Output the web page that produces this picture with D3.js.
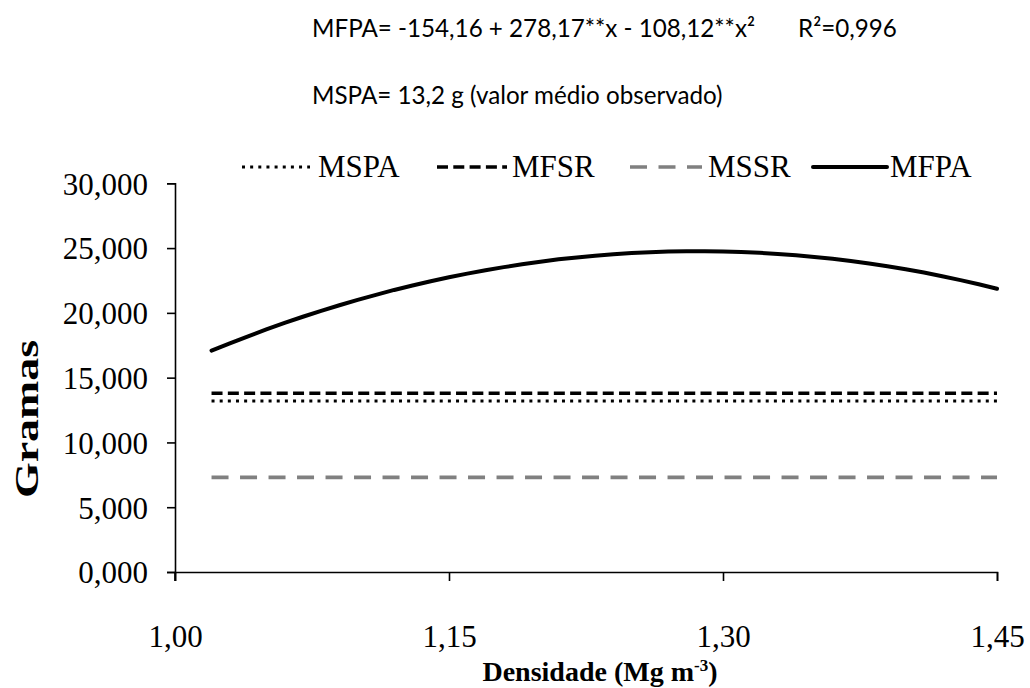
<!DOCTYPE html>
<html>
<head>
<meta charset="utf-8">
<script src="https://cdn.jsdelivr.net/npm/d3@7/dist/d3.min.js"></script>
<style>
  html, body { margin: 0; padding: 0; background: #fff; }
  svg { display: block; }
</style>
</head>
<body>
<svg id="chart" width="1030" height="688"></svg>
<script>
// Density values (Mg m-3) at which the fitted MFPA curve is plotted
const densidade = [1.02, 1.03, 1.04, 1.05, 1.06, 1.07, 1.08, 1.09, 1.10, 1.11,
  1.12, 1.13, 1.14, 1.15, 1.16, 1.17, 1.18, 1.19, 1.20, 1.21, 1.22, 1.23, 1.24,
  1.25, 1.26, 1.27, 1.28, 1.29, 1.30, 1.31, 1.32, 1.33, 1.34, 1.35, 1.36, 1.37,
  1.38, 1.39, 1.40, 1.41, 1.42, 1.43, 1.44, 1.45];
// Fresh shoot mass (g)
const mfpa = [17.09, 17.65, 18.19, 18.72, 19.22, 19.70, 20.15, 20.59, 21.00, 21.39,
  21.77, 22.11, 22.44, 22.75, 23.03, 23.29, 23.53, 23.75, 23.95, 24.13, 24.28, 24.41,
  24.53, 24.62, 24.68, 24.73, 24.75, 24.76, 24.74, 24.70, 24.64, 24.55, 24.45, 24.32,
  24.17, 24.00, 23.81, 23.60, 23.36, 23.11, 22.83, 22.53, 22.21, 21.86];
// Mean values (g) drawn as horizontal lines across the density range
const xRange = [1.02, 1.45];
const mspa = [13.2, 13.2];
const mfsr = [13.8, 13.8];
const mssr = [7.3, 7.3];

const xTicks = [1.00, 1.15, 1.30, 1.45];
const yTicks = [0, 5, 10, 15, 20, 25, 30];

const legendNames = ["MSPA", "MFSR", "MSSR", "MFPA"];

const svg = d3.select("#chart");
const serif = "'Liberation Serif', 'Times New Roman', serif";

const x = d3.scaleLinear().domain([1.00, 1.45]).range([175, 997]);
const y = d3.scaleLinear().domain([0, 30]).range([572, 183.3]);

const fmtX = v => d3.format(".2f")(v).replace(".", ",");
const fmtY = v => d3.format(",.3f")(v).replace(".", ",");

// Axes
const xAxis = svg.append("g")
  .attr("transform", `translate(0,${y(0)})`)
  .call(d3.axisBottom(x).tickValues(xTicks).tickFormat(fmtX).tickSizeOuter(0).tickSize(9).tickPadding(44));
const yAxis = svg.append("g")
  .attr("transform", `translate(${x(1.00)},0)`)
  .call(d3.axisLeft(y).tickValues(yTicks).tickFormat(fmtY).tickSizeOuter(0).tickSize(8).tickPadding(19));

[xAxis, yAxis].forEach(g => {
  g.select(".domain").attr("stroke", "#000").attr("stroke-width", 1.6);
  g.selectAll(".tick line").attr("stroke", "#000").attr("stroke-width", 1.6);
  g.selectAll(".tick text").attr("fill", "#000")
    .style("font-family", serif).style("font-size", "31px");
});
yAxis.selectAll(".tick text").attr("dy", "0.35em");
// The zero tick crosses slightly below the horizontal axis
svg.append("line").attr("x1", x(1.00)).attr("x2", x(1.00))
  .attr("y1", y(0)).attr("y2", y(0) + 9).attr("stroke", "#000").attr("stroke-width", 1.6);

// Series lines
const line = d3.line().x(d => x(d[0])).y(d => y(d[1]));

const series = [
  { name: "MSSR", xs: xRange, ys: mssr, color: "#808080", width: 3.6, dash: "17,11.5", cap: "butt" },
  { name: "MFSR", xs: xRange, ys: mfsr, color: "#000", width: 3.6, dash: "11,5.3", cap: "butt" },
  { name: "MSPA", xs: xRange, ys: mspa, color: "#000", width: 3, dash: "3,5.15", cap: "butt" },
  { name: "MFPA", xs: densidade, ys: mfpa, color: "#000", width: 4, dash: null, cap: "round" }
];

series.forEach(s => {
  svg.append("path")
    .datum(d3.zip(s.xs, s.ys))
    .attr("d", line)
    .attr("fill", "none")
    .attr("stroke", s.color)
    .attr("stroke-width", s.width)
    .attr("stroke-dasharray", s.dash)
    .attr("stroke-linecap", s.cap)
    .attr("stroke-linejoin", "round");
});

// Legend
const legendPos = [
  { x1: 242, x2: 310, tx: 318 },
  { x1: 437, x2: 507, tx: 512 },
  { x1: 630, x2: 702, tx: 708 },
  { x1: 813, x2: 887, tx: 890 }
];
const legendY = 167;
legendNames.forEach((name, i) => {
  const s = series.find(d => d.name === name);
  const p = legendPos[i];
  svg.append("line")
    .attr("x1", p.x1).attr("x2", p.x2).attr("y1", legendY).attr("y2", legendY)
    .attr("stroke", s.color).attr("stroke-width", s.width)
    .attr("stroke-dasharray", s.dash).attr("stroke-linecap", s.cap);
  svg.append("text")
    .attr("x", p.tx).attr("y", 177)
    .style("font-family", serif).style("font-size", "31px")
    .attr("fill", "#000").text(name);
});

// Axis titles
svg.append("text")
  .attr("transform", "translate(38,419) rotate(-90)")
  .attr("text-anchor", "middle")
  .attr("textLength", 158).attr("lengthAdjust", "spacingAndGlyphs")
  .style("font-family", serif).style("font-size", "34px").style("font-weight", "bold")
  .text("Gramas");

const xt = svg.append("text")
  .attr("x", 600).attr("y", 681)
  .attr("text-anchor", "middle")
  .style("font-family", serif).style("font-size", "28px").style("font-weight", "bold");
xt.append("tspan").text("Densidade (Mg m");
xt.append("tspan").attr("dy", -10).style("font-size", "17px").text("-3");
xt.append("tspan").attr("dy", 10).text(")");

// Regression annotations (one common size, set so the equation spans 443 px)
const sans = "Lato, 'Open Sans', sans-serif";
const notes = [
  { x: 312, y: 37, text: "MFPA= -154,16 + 278,17**x - 108,12**x²" },
  { x: 798, y: 37, text: "R²=0,996" },
  { x: 312, y: 104, text: "MSPA= 13,2 g (valor médio observado)" }
];
const noteText = svg.selectAll("text.note").data(notes).join("text")
  .attr("class", "note")
  .attr("x", d => d.x).attr("y", d => d.y)
  .style("font-family", sans).style("font-size", "24px").attr("fill", "#000")
  .text(d => d.text);
const eqLen = noteText.nodes()[0].getComputedTextLength();
noteText.style("font-size", (24 * 443 / eqLen).toFixed(2) + "px");
</script>
</body>
</html>
